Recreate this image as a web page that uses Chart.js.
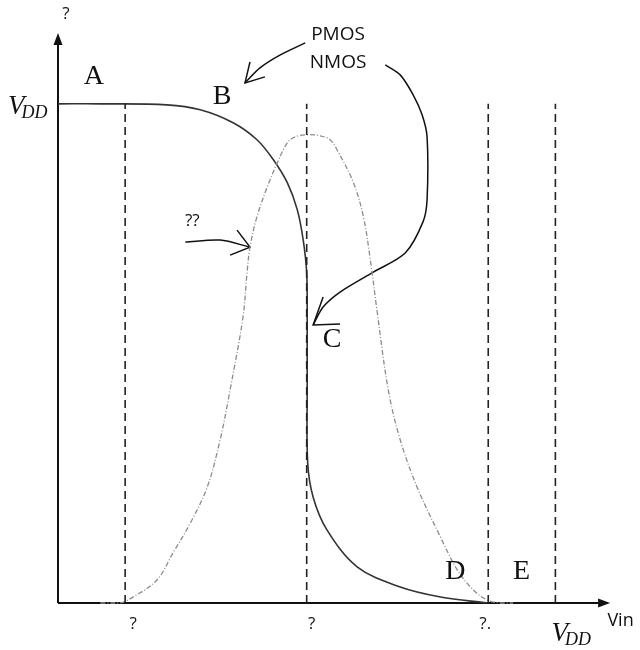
<!DOCTYPE html>
<html lang="en">
<head>
  <meta charset="UTF-8">
  <title>CMOS inverter transfer curve</title>
  <script src="https://cdn.jsdelivr.net/npm/chart.js"></script>
  <style>
    html, body { margin: 0; padding: 0; background: #fff; }
    #wrap { width: 640px; height: 650px; }
  </style>
</head>
<body>
  <div id="wrap"><canvas id="vtc" width="640" height="650"></canvas></div>

  <script>
    // everything in units of VDD
    const vinMarks = [0.135, 0.5, 0.865, 1.0];
    const vinLabels = ['?', '?', '?.', 'VDD'];

    // output voltage (solid)
    const voutX = [0, 0.085, 0.219, 0.286, 0.352, 0.400, 0.433, 0.461, 0.481, 0.493, 0.500, 0.501, 0.501, 0.502, 0.513, 0.541, 0.602, 0.688, 0.769, 0.863];
    const voutY = [1.0, 1.0, 0.998, 0.988, 0.962, 0.928, 0.888, 0.842, 0.788, 0.727, 0.661, 0.567, 0.427, 0.281, 0.212, 0.146, 0.072, 0.032, 0.012, 0.0];

    // drain current (dash-dot)
    const idX = [0.085, 0.125, 0.151, 0.199, 0.231, 0.266, 0.300, 0.326, 0.346, 0.372, 0.380, 0.386, 0.400, 0.421, 0.441, 0.461, 0.477, 0.501, 0.527, 0.547, 0.561, 0.594, 0.614, 0.628, 0.642, 0.664, 0.688, 0.722, 0.769, 0.803, 0.835, 0.863, 0.889, 0.915];
    const idY = [0, 0, 0.012, 0.046, 0.100, 0.160, 0.232, 0.327, 0.427, 0.573, 0.661, 0.713, 0.774, 0.834, 0.882, 0.922, 0.934, 0.938, 0.936, 0.928, 0.908, 0.842, 0.774, 0.687, 0.581, 0.427, 0.327, 0.232, 0.132, 0.066, 0.026, 0.006, 0, 0];

    // hand drawn pointer arrows
    const pmosArrowX = [0.497, 0.447, 0.406, 0.376];
    const pmosArrowY = [1.122, 1.098, 1.072, 1.042];
    const pmosHeadX = [0.386, 0.376, 0.416];
    const pmosHeadY = [1.084, 1.042, 1.054];

    const nmosArrowX = [0.658, 0.688, 0.714, 0.732, 0.742, 0.742, 0.734, 0.698, 0.634, 0.567, 0.533, 0.513];
    const nmosArrowY = [1.078, 1.058, 1.018, 0.978, 0.934, 0.808, 0.764, 0.701, 0.663, 0.623, 0.593, 0.557];
    const nmosHeadX = [0.533, 0.513, 0.567];
    const nmosHeadY = [0.613, 0.557, 0.559];

    const qArrowX = [0.256, 0.326, 0.386];
    const qArrowY = [0.723, 0.727, 0.713];
    const qHeadX = [0.360, 0.386, 0.346];
    const qHeadY = [0.747, 0.713, 0.697];

    // text notes placed in the same units
    const notes = [
      { t: '?', x: 0.016, y: 1.180, f: '17px "Open Sans"' },
      { t: 'A', x: 0.072, y: 1.054, f: '28px "Liberation Serif"' },
      { t: 'B', x: 0.330, y: 1.014, f: '28px "Liberation Serif"' },
      { t: 'C', x: 0.551, y: 0.527, f: '28px "Liberation Serif"' },
      { t: 'D', x: 0.799, y: 0.062, f: '28px "Liberation Serif"' },
      { t: 'E', x: 0.932, y: 0.062, f: '28px "Liberation Serif"' },
      { t: 'PMOS', x: 0.563, y: 1.138, f: '19px "Open Sans"' },
      { t: 'NMOS', x: 0.563, y: 1.082, f: '19px "Open Sans"' },
      { t: '??', x: 0.270, y: 0.764, f: '17px "Open Sans"' },
      { t: 'Vin', x: 1.131, y: -0.036, f: '18px "Open Sans"' }
    ];

    const pts = (xs, ys) => xs.map((v, i) => ({ x: v, y: ys[i] }));

    function line(data, opts) {
      return Object.assign({
        data,
        showLine: true,
        pointRadius: 0,
        borderColor: '#111',
        borderWidth: 1.5,
        tension: 0,
        fill: false,
        clip: false
      }, opts);
    }

    const datasets = [];
    vinMarks.forEach(m => {
      datasets.push(line([{ x: m, y: 0 }, { x: m, y: 1 }], { borderColor: '#222', borderWidth: 1.6, borderDash: [8, 5] }));
    });
    datasets.push(line(pts(idX, idY), { borderColor: '#8c8c8c', borderWidth: 1.3, borderDash: [5, 2, 1, 2], tension: 0.35 }));
    datasets.push(line(pts(voutX, voutY), { borderColor: '#333', borderWidth: 1.6, tension: 0.35 }));
    datasets.push(line(pts(pmosArrowX, pmosArrowY), { tension: 0.3 }));
    datasets.push(line(pts(pmosHeadX, pmosHeadY)));
    datasets.push(line(pts(nmosArrowX, nmosArrowY), { tension: 0.3 }));
    datasets.push(line(pts(nmosHeadX, nmosHeadY)));
    datasets.push(line(pts(qArrowX, qArrowY), { tension: 0.3 }));
    datasets.push(line(pts(qHeadX, qHeadY)));

    function drawVdd(ctx, px, py) {
      ctx.textAlign = 'left';
      ctx.textBaseline = 'alphabetic';
      ctx.font = 'italic 27px "Liberation Serif"';
      ctx.fillText('V', px, py);
      const w = ctx.measureText('V').width;
      ctx.font = 'italic 18px "Liberation Serif"';
      ctx.fillText('DD', px + w - 3, py + 4);
    }

    const sketch = {
      id: 'sketch',
      beforeDatasetsDraw(chart) {
        const { ctx } = chart;
        const x = chart.scales.x, y = chart.scales.y;
        const x0 = x.getPixelForValue(0), y0 = y.getPixelForValue(0);
        const xEnd = x.getPixelForValue(1.11), yEnd = y.getPixelForValue(1.142);
        ctx.save();
        ctx.strokeStyle = '#111';
        ctx.fillStyle = '#111';
        ctx.lineWidth = 2;
        ctx.beginPath();
        ctx.moveTo(x0, y0); ctx.lineTo(xEnd - 8, y0);
        ctx.moveTo(x0, y0); ctx.lineTo(x0, yEnd + 8);
        ctx.stroke();
        // arrow heads
        ctx.beginPath();
        ctx.moveTo(xEnd, y0); ctx.lineTo(xEnd - 12, y0 - 4.5); ctx.lineTo(xEnd - 12, y0 + 4.5); ctx.closePath();
        ctx.moveTo(x0, yEnd); ctx.lineTo(x0 - 4.5, yEnd + 12); ctx.lineTo(x0 + 4.5, yEnd + 12); ctx.closePath();
        ctx.fill();
        ctx.restore();
      },
      afterDatasetsDraw(chart) {
        const { ctx } = chart;
        const x = chart.scales.x, y = chart.scales.y;
        ctx.save();
        ctx.fillStyle = '#111';
        ctx.textAlign = 'center';
        ctx.textBaseline = 'middle';
        notes.forEach(n => {
          ctx.font = n.f;
          ctx.fillText(n.t, x.getPixelForValue(n.x), y.getPixelForValue(n.y));
        });
        // tick labels under the axis
        const nudge = [8, 5, -3, 0];
        const yTick = y.getPixelForValue(0) + 21;
        vinLabels.forEach((lab, i) => {
          const px = x.getPixelForValue(vinMarks[i]) + nudge[i];
          if (lab === 'VDD') {
            drawVdd(ctx, px - 4, yTick + 17);
          } else {
            ctx.textAlign = 'center';
            ctx.textBaseline = 'middle';
            ctx.font = '17px "Open Sans"';
            ctx.fillText(lab, px, yTick);
          }
        });
        // VDD level on the vertical axis
        drawVdd(ctx, 8, y.getPixelForValue(1) + 10);
        ctx.restore();
      }
    };

    new Chart(document.getElementById('vtc'), {
      type: 'scatter',
      data: { datasets },
      options: {
        responsive: false,
        animation: false,
        layout: { padding: { left: 58, right: 10, top: 4, bottom: 47 } },
        scales: {
          x: { type: 'linear', min: 0, max: 1.15, display: false },
          y: { type: 'linear', min: 0, max: 1.2, display: false }
        },
        plugins: { legend: { display: false }, tooltip: { enabled: false } }
      },
      plugins: [sketch]
    });
  </script>
</body>
</html>
